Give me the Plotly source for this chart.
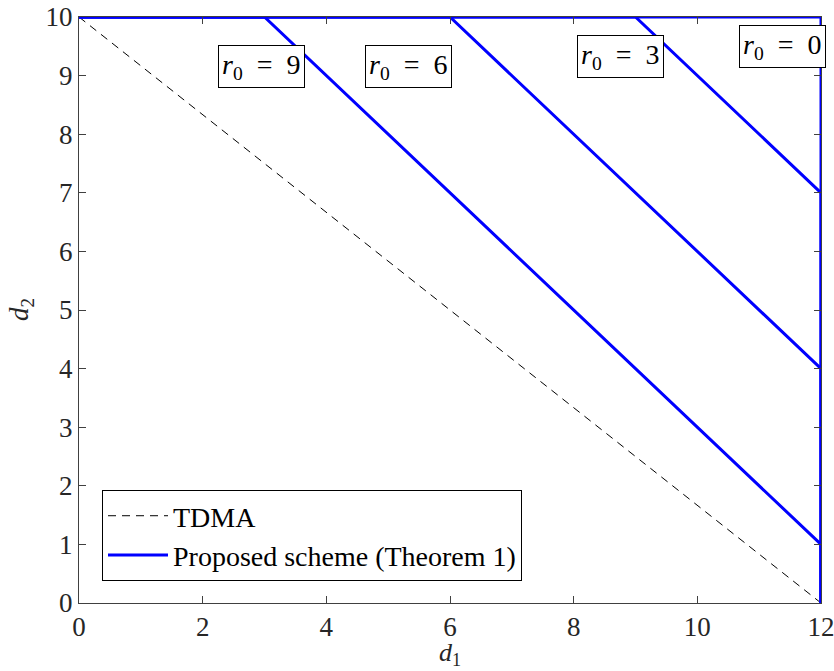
import plotly.graph_objects as go

# Data
tdma_d1 = [0, 12]
tdma_d2 = [10, 0]

r0_values = [9, 6, 3, 0]
# corner points of each proposed-scheme boundary: (0,10)->(12-r0,10)->(12,10-r0)->(12,0)
prop_d1 = {9: [0, 3, 12, 12], 6: [0, 6, 12, 12], 3: [0, 9, 12, 12], 0: [0, 12, 12, 12]}
prop_d2 = {9: [10, 10, 1, 0], 6: [10, 10, 4, 0], 3: [10, 10, 7, 0], 0: [10, 10, 10, 0]}

label_x = [2.95, 5.33, 8.75, 11.37]
label_y = [9.15, 9.16, 9.32, 9.5]

x_ticks = [0, 2, 4, 6, 8, 10, 12]
y_ticks = list(range(0, 11))

FONT = "Liberation Serif, Times New Roman, serif"

fig = go.Figure()
fig.add_trace(go.Scatter(x=tdma_d1, y=tdma_d2, mode="lines", name="TDMA",
                         line=dict(color="black", width=1, dash="8px,6px")))
for i, r0 in enumerate(r0_values):
    fig.add_trace(go.Scatter(x=prop_d1[r0], y=prop_d2[r0], mode="lines",
                             name="Proposed scheme (Theorem 1)",
                             showlegend=(i == 0), cliponaxis=False,
                             line=dict(color="#0000FF", width=3)))

for r0, lx, ly in zip(r0_values, label_x, label_y):
    fig.add_annotation(x=lx, y=ly, xref="x", yref="y", showarrow=False,
                       text=f"<i>r</i><sub>0</sub>\u2002=\u2002{r0}",
                       font=dict(family=FONT, size=28, color="black"),
                       bgcolor="white", bordercolor="black", borderwidth=1, borderpad=3)

# axis titles
fig.add_annotation(x=0.5, y=-0.1165, xref="paper", yref="paper", showarrow=False,
                   xanchor="center", yanchor="bottom", borderpad=0, height=28, valign="bottom",
                   text="<i>d</i><sub>1</sub>", font=dict(family=FONT, size=26, color="#262626"))
fig.add_annotation(x=-0.078, y=0.5, xref="paper", yref="paper", showarrow=False, textangle=-90,
                   xanchor="center", yanchor="middle",
                   text="<i>d</i><sub>2</sub>", font=dict(family=FONT, size=27, color="#262626"))

axis_common = dict(showline=True, mirror="ticks", linecolor="#404040", linewidth=1,
                   ticks="inside", ticklen=7, tickcolor="#404040", showgrid=False,
                   zeroline=False, automargin=False, ticklabeloverflow="allow",
                   tickfont=dict(family=FONT, size=27, color="#262626"))

fig.update_xaxes(range=[0, 12], tickvals=x_ticks, ticklabelstandoff=0, **axis_common)
fig.update_yaxes(range=[0, 10], tickvals=y_ticks, **axis_common)

fig.update_layout(
    width=834, height=671,
    margin=dict(l=79, r=13, t=17, b=68),
    plot_bgcolor="white", paper_bgcolor="white",
    font=dict(family=FONT, size=27, color="black"),
    legend=dict(x=0.031, y=0.0375, xanchor="left", yanchor="bottom",
                bgcolor="white", bordercolor="black", borderwidth=1,
                font=dict(family=FONT, size=28, color="black"),
                tracegroupgap=0, itemwidth=60),
)

fig.write_html("out.html", config={"displayModeBar": False},
               post_script="document.body.style.margin='0';document.body.style.overflow='hidden';")
